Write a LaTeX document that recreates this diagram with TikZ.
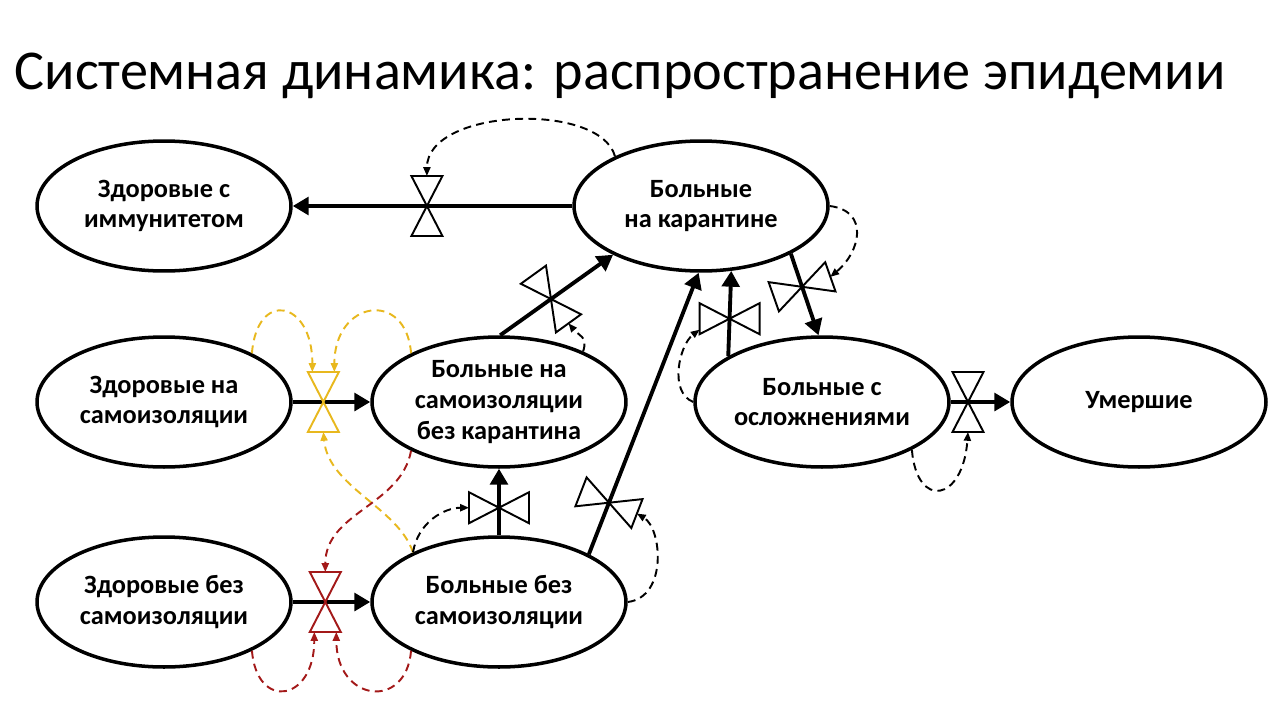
\documentclass[tikz,border=0pt]{standalone}
\usepackage{fontspec}
\setmainfont{Carlito}
\usetikzlibrary{arrows.meta,shapes.geometric}
\definecolor{vyellow}{HTML}{E8B81E}
\definecolor{vred}{HTML}{A31919}
\tikzset{
  stock/.style={ellipse, draw, line width=2pt, fill=white,
    minimum width=5.08cm, minimum height=2.6cm, inner sep=0pt, align=center,
    font=\bfseries\fontsize{15}{17.5}\selectfont},
  flowline/.style={line width=2.2pt, -{Triangle[length=9pt,width=10pt]}},
  infolink/.style={line width=1.1pt, dash pattern=on 4.5pt off 3pt,
    -{Triangle[length=5pt,width=4pt]}},
  valveline/.style={line width=1.1pt, line join=miter},
  pics/valve/.style={code={
    \draw[valveline,#1] (-15.5,-30) -- (15.5,-30) -- (-15.5,30) -- (15.5,30) -- cycle;
    \coordinate (-t) at (0,-30);
    \coordinate (-b) at (0,30);
    \coordinate (-tl) at (-11,-30);
    \coordinate (-tr) at (11,-30);
    \coordinate (-bl) at (-11,30);
    \coordinate (-br) at (11,30);
  }},
  pics/valve/.default=black
}
\begin{document}
\begin{tikzpicture}[x=0.02cm,y=-0.02cm]
\useasboundingbox (0,0) rectangle (1280,720);
\node[anchor=base, font=\fontsize{32}{38}\selectfont] (title) at (620,89)
  {Системная динамика: распространение эпидемии};

% stocks
\node[stock] (imm)  at (164,206) {Здоровые с\\иммунитетом};
\node[stock] (kar)  at (701,206) {Больные\\на карантине};
\node[stock] (zsi)  at (164,402) {Здоровые на\\самоизоляции};
\node[stock] (bsi)  at (499,402) {Больные на\\самоизоляции\\без карантина};
\node[stock] (zbez) at (164,602) {Здоровые без\\самоизоляции};
\node[stock] (bbez) at (499,602) {Больные без\\самоизоляции};
\node[stock] (osl)  at (822,402) {Больные с\\осложнениями};
\node[stock] (umer) at (1139,402) {Умершие};

% flows
\draw[flowline] (kar.west) -- coordinate[pos=0.52] (c1) (imm.east);
\draw[flowline] (zsi.east) -- coordinate[pos=0.395] (c2) (bsi.west);
\draw[flowline] (zbez.east) -- coordinate[pos=0.42] (c3) (bbez.west);
\draw[flowline] (bbez.north) -- coordinate[pos=0.414] (c4) (bsi.south);
\draw[flowline] (bsi.89) -- coordinate[pos=0.45] (c5) (kar.209);
\draw[flowline] (bbez.28) -- coordinate[pos=0.183] (c6) (kar.268);
\draw[flowline] (osl.154) -- coordinate[pos=0.44] (c7) (kar.295);
\draw[flowline] (kar.332) -- coordinate[pos=0.405] (c8) (osl.93);
\draw[flowline] (osl.east) -- coordinate[pos=0.29] (c9) (umer.west);

% valves
\pic (v1) at (c1) {valve};
\pic (v2) at (c2) {valve=vyellow};
\pic (v3) at (c3) {valve=vred};
\pic[rotate=90] (v4) at (c4) {valve};
\pic[rotate=35.8] (v5) at (c5) {valve};
\pic[rotate=68.8] (v6) at (c6) {valve};
\pic[rotate=90] (v7) at (c7) {valve};
\pic[rotate=-70.6] (v8) at (c8) {valve};
\pic (v9) at (c9) {valve};

% information links
\draw[infolink] (kar.150) .. controls +(-15,-55) and +(0,-68) .. (v1-t);
\draw[infolink,vyellow] (zsi.29) .. controls +(5,-64) and +(0,-72) .. (v2-tl);
\draw[infolink,vyellow] (bsi.151) .. controls +(-5,-64) and +(0,-72) .. (v2-tr);
\draw[infolink,vyellow] (bbez.150) .. controls +(-15,-45) and +(5,55) .. (v2-b);
\draw[infolink,vred] (bsi.209) .. controls +(-10,55) and +(0,-60) .. (v3-t);
\draw[infolink,vred] (zbez.331) .. controls +(5,60) and +(0,70) .. (v3-bl);
\draw[infolink,vred] (bbez.209) .. controls +(-5,60) and +(0,70) .. (v3-br);
\draw[infolink] (bbez.150) .. controls +(5,-30) and +(-25,0) .. (v4-t);
\draw[infolink] (bbez.east) .. controls +(40,-5) and +(25,15) .. (v6-b);
\draw[infolink] (bsi.31) .. controls +(5,-15) and +(10,12) .. (v5-b);
\draw[infolink] (osl.west) .. controls +(-25,-10) and +(-20,15) .. (v7-tl);
\draw[infolink] (kar.east) .. controls +(40,5) and +(30,-25) .. (v8-t);
\draw[infolink] (osl.332) .. controls +(5,60) and +(-5,70) .. (v9-b);
\end{tikzpicture}
\end{document}
